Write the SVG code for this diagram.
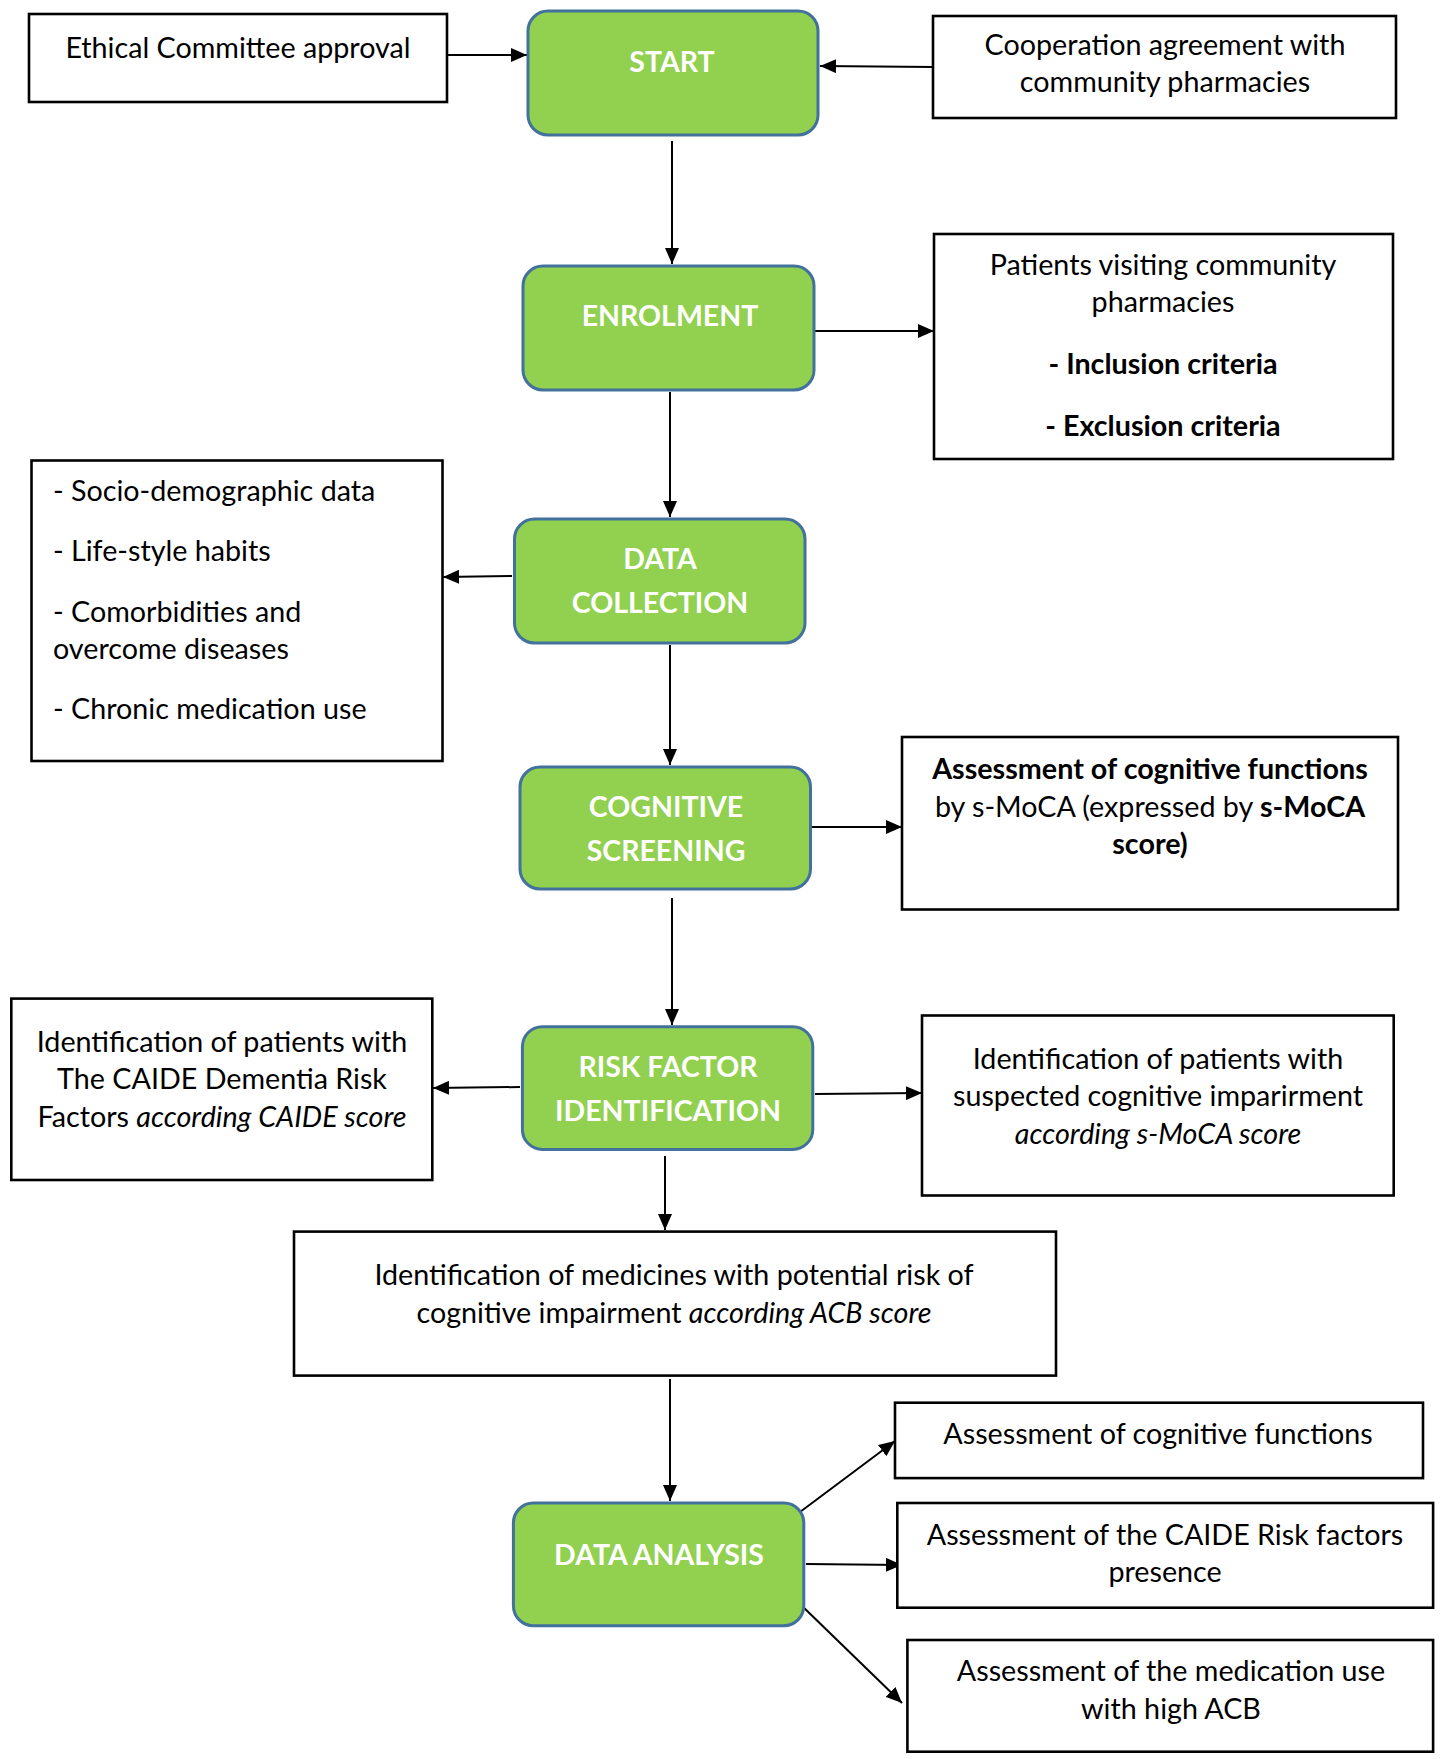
<svg xmlns="http://www.w3.org/2000/svg" width="1441" height="1759" viewBox="0 0 1441 1759">
<style>
.box{fill:#fff;stroke:#000;stroke-width:2.6}
.step{fill:#92D050;stroke:#41719C;stroke-width:3}
.t{font-family:Lato,"Liberation Sans",sans-serif;font-size:28.7px;fill:#000}
.c{text-anchor:middle}
.w{font-family:Lato,"Liberation Sans",sans-serif;font-size:28.5px;font-weight:bold;fill:#fff;text-anchor:middle}
.b{font-weight:bold}
.i{font-style:italic}
.ln{stroke:#000;stroke-width:2;fill:none;marker-end:url(#ah)}
</style>
<defs>
<marker id="ah" markerUnits="userSpaceOnUse" markerWidth="16" markerHeight="14" refX="16" refY="7" orient="auto">
<path d="M0,0 L16,7 L0,14 z" fill="#000"/>
</marker>
</defs>
<rect width="1441" height="1759" fill="#fff"/>
<g id="connectors">
<line class="ln" x1="447" y1="55" x2="527" y2="55"/>
<line class="ln" x1="933" y1="67" x2="820" y2="66"/>
<line class="ln" x1="672" y1="141" x2="672" y2="264"/>
<line class="ln" x1="815" y1="331" x2="934" y2="331"/>
<line class="ln" x1="670" y1="392" x2="670" y2="517"/>
<line class="ln" x1="512" y1="576" x2="443" y2="577"/>
<line class="ln" x1="670" y1="645" x2="670" y2="765"/>
<line class="ln" x1="812" y1="827" x2="902" y2="827"/>
<line class="ln" x1="672" y1="898" x2="672" y2="1025"/>
<line class="ln" x1="520" y1="1087" x2="433" y2="1088"/>
<line class="ln" x1="815" y1="1094" x2="922" y2="1093"/>
<line class="ln" x1="665" y1="1156" x2="665" y2="1230"/>
<line class="ln" x1="670" y1="1379" x2="670" y2="1501"/>
<line class="ln" x1="800" y1="1512" x2="895" y2="1441"/>
<line class="ln" x1="806" y1="1564" x2="902" y2="1565"/>
<line class="ln" x1="800" y1="1604" x2="902" y2="1703"/>
</g>
<g id="ethical">
<rect class="box" x="29" y="14" width="418" height="88"/>
<text class="t c" x="238" y="58">Ethical Committee approval</text>
</g>
<g id="start">
<rect class="step" x="528" y="11" width="290" height="124" rx="20"/>
<text class="w" x="672" y="72">START</text>
</g>
<g id="cooperation">
<rect class="box" x="933" y="16" width="463" height="102"/>
<text class="t c" x="1165" y="55">Cooperation agreement with</text>
<text class="t c" x="1165" y="92">community pharmacies</text>
</g>
<g id="enrolment">
<rect class="step" x="523" y="266" width="291" height="124" rx="20"/>
<text class="w" x="670" y="326">ENROLMENT</text>
</g>
<g id="patients">
<rect class="box" x="934" y="234" width="459" height="225"/>
<text class="t c" x="1163" y="275">Patients visiting community</text>
<text class="t c" x="1163" y="312">pharmacies</text>
<text class="t c b" x="1163" y="374">- Inclusion criteria</text>
<text class="t c b" x="1163" y="436">- Exclusion criteria</text>
</g>
<g id="datalist">
<rect class="box" x="31.5" y="460.5" width="411" height="300.5"/>
<text class="t" x="53" y="501">- Socio-demographic data</text>
<text class="t" x="53" y="561">- Life-style habits</text>
<text class="t" x="53" y="622">- Comorbidities and</text>
<text class="t" x="53" y="659">overcome diseases</text>
<text class="t" x="53" y="719">- Chronic medication use</text>
</g>
<g id="datacollection">
<rect class="step" x="514.5" y="519" width="290.5" height="124" rx="20"/>
<text class="w" x="660" y="569">DATA</text>
<text class="w" x="660" y="613">COLLECTION</text>
</g>
<g id="cognitive">
<rect class="step" x="520" y="767" width="290.5" height="122" rx="20"/>
<text class="w" x="666" y="817">COGNITIVE</text>
<text class="w" x="666" y="861">SCREENING</text>
</g>
<g id="assessment">
<rect class="box" x="902" y="737" width="496" height="172.5"/>
<text class="t c b" x="1150" y="779">Assessment of cognitive functions</text>
<text class="t c" x="1150" y="817">by s-MoCA (expressed by <tspan class="b">s-MoCA</tspan></text>
<text class="t c b" x="1150" y="854">score)</text>
</g>
<g id="caide">
<rect class="box" x="11.3" y="998.6" width="421" height="181.4"/>
<text class="t c" x="222" y="1052">Identification of patients with</text>
<text class="t c" x="222" y="1089">The CAIDE Dementia Risk</text>
<text class="t c" x="222" y="1127">Factors <tspan class="i">according CAIDE score</tspan></text>
</g>
<g id="riskfactor">
<rect class="step" x="522.4" y="1026.7" width="290.4" height="122.7" rx="20"/>
<text class="w" x="668" y="1077">RISK FACTOR</text>
<text class="w" x="668" y="1121">IDENTIFICATION</text>
</g>
<g id="suspected">
<rect class="box" x="922" y="1015.5" width="471.7" height="180"/>
<text class="t c" x="1158" y="1069">Identification of patients with</text>
<text class="t c" x="1158" y="1106">suspected cognitive imparirment</text>
<text class="t c i" x="1158" y="1144">according s-MoCA score</text>
</g>
<g id="medicines">
<rect class="box" x="294" y="1231.6" width="762" height="144"/>
<text class="t c" x="674" y="1285">Identification of medicines with potential risk of</text>
<text class="t c" x="674" y="1323">cognitive impairment <tspan class="i">according ACB score</tspan></text>
</g>
<g id="dataanalysis">
<rect class="step" x="513.4" y="1503" width="290.4" height="122.7" rx="20"/>
<text class="w" x="659" y="1565">DATA ANALYSIS</text>
</g>
<g id="assess1">
<rect class="box" x="895" y="1402.7" width="528" height="75.4"/>
<text class="t c" x="1158" y="1444">Assessment of cognitive functions</text>
</g>
<g id="assess2">
<rect class="box" x="897.3" y="1503" width="535.8" height="104.7"/>
<text class="t c" x="1165" y="1545">Assessment of the CAIDE Risk factors</text>
<text class="t c" x="1165" y="1582">presence</text>
</g>
<g id="assess3">
<rect class="box" x="907.4" y="1640" width="525.7" height="111.7"/>
<text class="t c" x="1171" y="1681">Assessment of the medication use</text>
<text class="t c" x="1171" y="1719">with high ACB</text>
</g>
</svg>
